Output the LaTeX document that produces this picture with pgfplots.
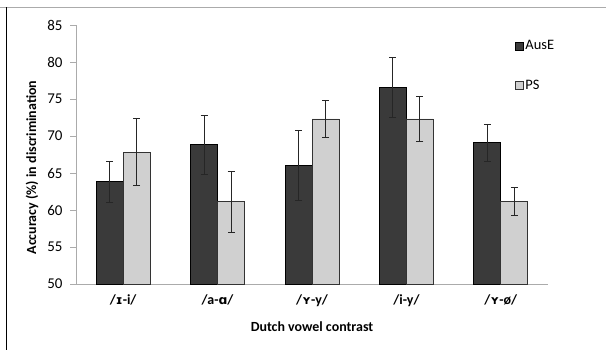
\documentclass[border=0pt]{standalone}
\usepackage{pgfplots}
\pgfplotsset{compat=1.18}
\usepackage{fontspec}
\setmainfont{Carlito}
\newfontfamily\ipa{DejaVu Sans}
\definecolor{darkbar}{HTML}{3A3A3A}
\definecolor{lightbar}{HTML}{D0D0D0}
\definecolor{axgray}{HTML}{ABABAB}
\newcommand{\ip}[1]{{\ipa\bfseries\fontsize{12.5}{15}\selectfont #1}}
\begin{document}
\begin{tikzpicture}[x=1bp,y=1bp]
\useasboundingbox (0,0) rectangle (606,-350);
\draw[axgray, line width=1bp] (0,-7) -- (606,-7);
\draw[black, line width=1bp] (6,-7) -- (6,-350);
\begin{axis}[
  at={(76bp,-284bp)}, anchor=south west,
  scale only axis, width=472bp, height=259bp,
  ybar=0pt, bar width=27bp,
  xmin=-0.5, xmax=4.5, ymin=50, ymax=85,
  ytick={50,55,...,85},
  xtick={0,1,2,3,4},
  xticklabels={{/\ip{ɪ}-i/},{/a-\ip{ɑ}/},{/\ip{ʏ}-y/},{/i-y/},{/\ip{ʏ}-ø/}},
  extra x ticks={-0.5,0.5,1.5,2.5,3.5,4.5},
  extra x tick labels={},
  extra x tick style={major tick length=5bp, tick style={axgray, line width=1bp}},
  x tick style={draw=none},
  y tick style={axgray, line width=1bp},
  major tick length=6bp,
  tick align=outside,
  axis x line*=bottom, axis y line*=left,
  axis line style={axgray, line width=1bp, -},
  /pgf/number format/assume math mode=true,
  yticklabel style={font=\fontsize{15}{17}\selectfont, xshift=-4bp},
  xticklabel style={font=\bfseries\fontsize{14}{16}\selectfont, yshift=-1bp, anchor=north},
  xlabel={\bfseries Dutch vowel contrast},
  ylabel={\bfseries Accuracy (\%) in discrimination},
  label style={font=\fontsize{14}{16}\selectfont},
  xlabel style={at={(axis description cs:0.5,-0.166)}, anchor=center},
  ylabel style={at={(axis description cs:-0.093,0.45)}, anchor=center},
  legend style={at={(axis description cs:0.929,0.948)}, anchor=north west, draw=none, fill=none,
    font=\fontsize{14.5}{16}\selectfont, row sep=25bp, inner sep=0pt,
    nodes={inner sep=2bp}},
  legend cell align=left,
  legend image code/.code={\draw[#1, line width=0.8bp] (0bp,-4bp) rectangle (8bp,4bp);},
  error bars/error bar style={line width=1.1bp, black!85},
  error bars/error mark options={rotate=90, mark size=3.5bp, line width=1bp, black!85},
]
\addplot[fill=darkbar, draw=black, line width=0.8bp,
  error bars/.cd, y dir=both, y explicit]
  coordinates {(0,63.8) +- (0,2.75) (1,68.8) +- (0,4.0) (2,66.0) +- (0,4.7) (3,76.6) +- (0,4.05) (4,69.1) +- (0,2.5)};
\addplot[fill=lightbar, draw=black!80, line width=0.8bp,
  error bars/.cd, y dir=both, y explicit]
  coordinates {(0,67.8) +- (0,4.55) (1,61.1) +- (0,4.15) (2,72.3) +- (0,2.5) (3,72.3) +- (0,3.05) (4,61.1) +- (0,1.9)};
\legend{AusE, PS}
\end{axis}
\end{tikzpicture}
\end{document}
